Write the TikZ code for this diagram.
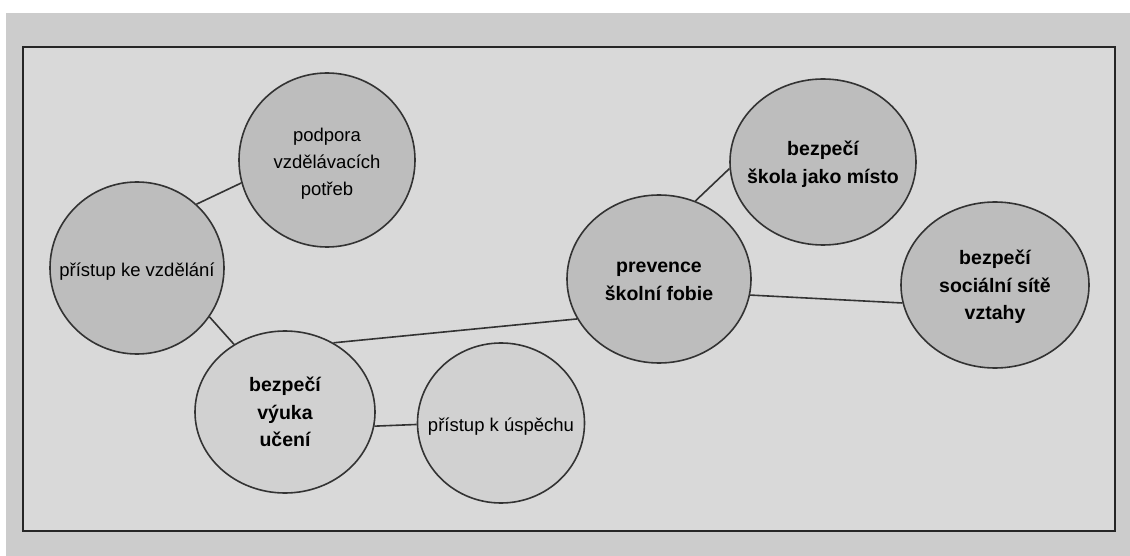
\documentclass[tikz,border=0pt]{standalone}
\usepackage{fontspec}
\setmainfont{Liberation Sans}
\usetikzlibrary{shapes.geometric}

\definecolor{photogray}{gray}{0.80}
\definecolor{sheetgray}{gray}{0.85}
\definecolor{bubblegray}{gray}{0.74}
\definecolor{palegray}{gray}{0.82}
\newcommand\bubtext[1]{\smash{\makebox[0pt]{\raisebox{-7pt}{\begin{tabular}{@{}c@{}}#1\end{tabular}}}}}

\tikzset{
  bubble/.style={ellipse, draw=black!80, line width=1.6pt, fill=bubblegray, inner sep=0pt,
                 font=\fontsize{18.5}{27}\selectfont},
  boldbubble/.style={bubble, font=\fontsize{19.5}{27.5}\selectfont\bfseries},
  pale/.style={bubble, fill=palegray},
  link/.style={draw=black!80, line width=1.6pt},
}

\begin{document}
\begin{tikzpicture}[x=1pt, y=-1pt]
\useasboundingbox (0,0) rectangle (1130,556);
\fill[white] (0,0) rectangle (1130,556);
\fill[photogray] (6,13) rectangle (1130,556);
\draw[line width=2.2pt, draw=black!85, fill=sheetgray] (23,47) rectangle (1115,531);

\node[bubble, minimum width=174, minimum height=172] (pk) at (137,268) {\bubtext{přístup ke vzdělání}};
\node[bubble, minimum width=176, minimum height=174] (pv) at (327,160) {\bubtext{podpora\\vzdělávacích\\potřeb}};
\node[boldbubble, fill=palegray, minimum width=180, minimum height=162] (bv) at (285,412) {\bubtext{bezpečí\\výuka\\učení}};
\node[pale, minimum width=167, minimum height=160] (pu) at (501,423) {\bubtext{přístup k úspěchu}};
\node[boldbubble, minimum width=184, minimum height=168] (pf) at (659,279) {\bubtext{prevence\\školní fobie}};
\node[boldbubble, minimum width=186, minimum height=166] (bs) at (823,162) {\bubtext{bezpečí\\škola jako místo}};
\node[boldbubble, minimum width=188, minimum height=166] (bn) at (995,285) {\bubtext{bezpečí\\sociální sítě\\vztahy}};

\draw[link] (pk.47) -- (pv.195);
\draw[link] (pk.-34) -- (bv.127);
\draw[link] (bv.55) -- (pf.206);
\draw[link] (bv.-9) -- (pu.181);
\draw[link] (pf.65) -- (bs.184);
\draw[link] (pf.-10) -- (bn.191);
\end{tikzpicture}
\end{document}
